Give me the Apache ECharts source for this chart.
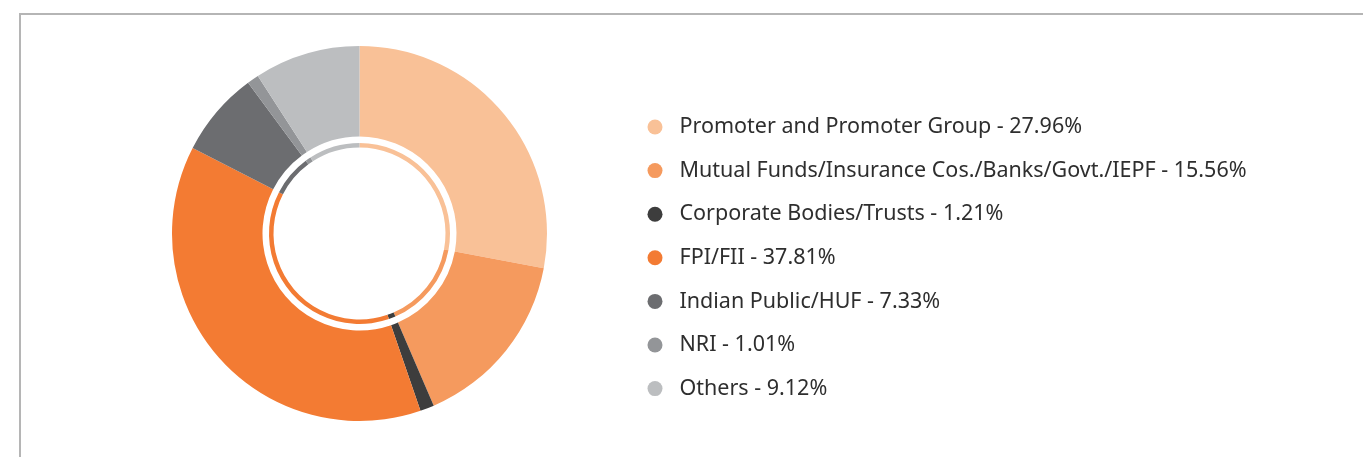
<!DOCTYPE html>
<html>
<head>
<meta charset="utf-8">
<script src="https://cdn.jsdelivr.net/npm/echarts@6/dist/echarts.min.js"></script>
<style>
  html, body { margin: 0; padding: 0; background: #ffffff; }
  #chart { width: 1363px; height: 457px; }
</style>
</head>
<body>
<div id="chart"></div>
<script>
// Shareholding pattern categories and their percentage shares
const categories = [
  'Promoter and Promoter Group',
  'Mutual Funds/Insurance Cos./Banks/Govt./IEPF',
  'Corporate Bodies/Trusts',
  'FPI/FII',
  'Indian Public/HUF',
  'NRI',
  'Others'
];
const shares = [27.96, 15.56, 1.21, 37.81, 7.33, 1.01, 9.12];
const palette = ['#F9C197', '#F59A5E', '#3D3D3D', '#F37B33', '#6C6D70', '#939598', '#BCBEC0'];

const pieData = categories.map((name, i) => ({ name: name, value: shares[i] }));
const shareByName = {};
categories.forEach((name, i) => { shareByName[name] = shares[i]; });

const chart = echarts.init(document.getElementById('chart'), null, { renderer: 'canvas' });

chart.setOption({
  animation: false,
  color: palette,
  graphic: [{
    type: 'rect',
    silent: true,
    shape: { x: 20, y: 14, width: 1400, height: 500 },
    style: { fill: 'none', stroke: '#b5b5b5', lineWidth: 2 }
  }],
  legend: {
    orient: 'vertical',
    left: 642.5,
    top: 110,
    icon: 'circle',
    itemWidth: 15,
    itemHeight: 15,
    itemGap: 19.6,
    selectedMode: false,
    textStyle: {
      fontFamily: 'Noto Sans',
      fontSize: 21.5,
      lineHeight: 24,
      color: '#2e2e2e',
      padding: [0, 0, 0, 12]
    },
    formatter: name => name + ' - ' + shareByName[name].toFixed(2) + '%',
    data: categories
  },
  series: [
    {
      type: 'pie',
      center: [359.5, 233.5],
      radius: [97, 187.5],
      startAngle: 90,
      clockwise: true,
      label: { show: false },
      labelLine: { show: false },
      emphasis: { disabled: true },
      data: pieData
    },
    {
      type: 'pie',
      center: [359.5, 233.5],
      radius: [86, 90.5],
      startAngle: 90,
      clockwise: true,
      silent: true,
      legendHoverLink: false,
      label: { show: false },
      labelLine: { show: false },
      emphasis: { disabled: true },
      data: pieData
    }
  ]
});
</script>
</body>
</html>
